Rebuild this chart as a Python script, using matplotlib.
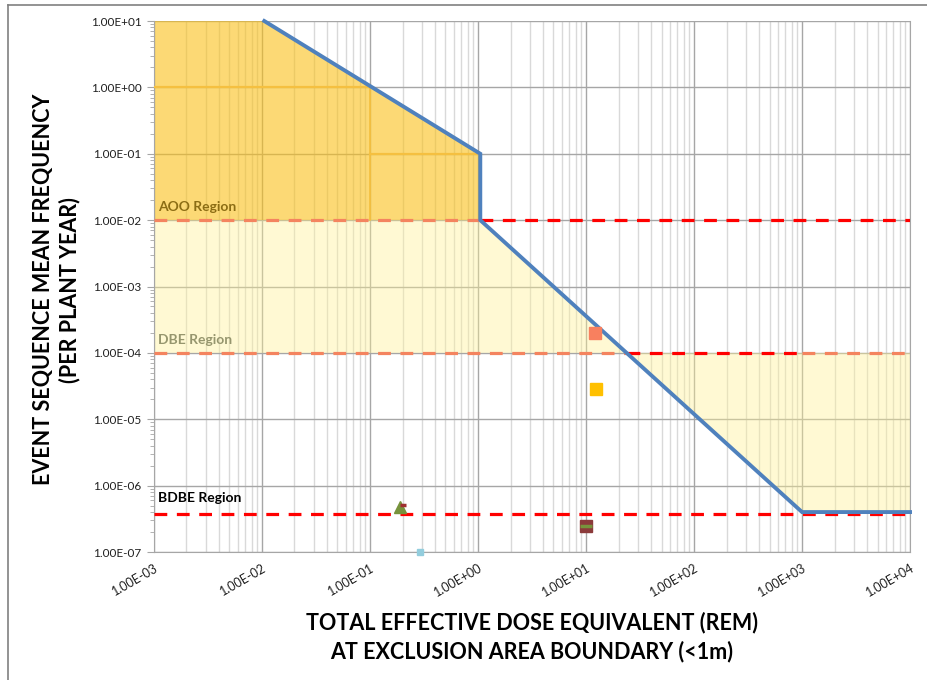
import numpy as np
import matplotlib
matplotlib.use("Agg")
import matplotlib.pyplot as plt
from matplotlib.lines import Line2D

plt.rcParams['font.family'] = ['Lato', 'DejaVu Sans']

# limit curve (dose in rem, frequency per plant year)
curve_x = [0.0105, 1.05, 1.05, 1000, 1e4]
curve_y = [10, 0.1, 0.01, 4e-7, 4e-7]

# region boundaries
aoo_limit = 1e-2
dbe_limit = 1e-4
bdbe_limit = 3.8e-7

# event sequences
pt_x = [12, 12.5, 10, 0.19, 0.29]
pt_y = [2e-4, 2.85e-5, 2.5e-7, 4.8e-7, 1e-7]

xmin, xmax = 1e-3, 1e4
ymin, ymax = 1e-7, 10

def cross_x(level):
    # where the sloped part of the curve meets a frequency level
    lx = np.log10([curve_x[2], curve_x[3]])
    ly = np.log10([curve_y[2], curve_y[3]])
    return 10 ** np.interp(np.log10(level), ly[::-1], lx[::-1])

x_dbe = cross_x(dbe_limit)

fig = plt.figure(figsize=(9.27, 6.8), dpi=100)
ax = fig.add_axes([0.1661, 0.1882, 0.8156, 0.7809])
ax.set_xscale('log')
ax.set_yscale('log')
ax.set_xlim(xmin, xmax)
ax.set_ylim(ymin, ymax)

# grid
ax.grid(True, which='major', color='#a6a6a6', lw=1.0, zorder=1)
ax.grid(True, which='minor', color='#d9d9d9', lw=1.0, zorder=1)
ax.yaxis.grid(False, which='minor')

# AOO region (orange)
ax.fill([xmin, curve_x[0], curve_x[1], curve_x[2], xmin],
        [ymax, curve_y[0], curve_y[1], curve_y[2], aoo_limit],
        color='#fac019', alpha=0.6, lw=0, zorder=2)
gold = '#f5c040'
ax.plot([xmin, 0.1], [1, 1], color=gold, lw=1.6, zorder=3)
ax.plot([0.1, 0.1], [1, aoo_limit], color=gold, lw=1.2, zorder=3)
ax.plot([0.1, curve_x[1]], [0.1, 0.1], color=gold, lw=1.6, zorder=3)

# DBE region (light yellow)
ax.fill([xmin, curve_x[2], x_dbe, xmin],
        [aoo_limit, aoo_limit, dbe_limit, dbe_limit],
        color='#fff293', alpha=0.4, lw=0, zorder=2)
ax.fill([x_dbe, curve_x[3], curve_x[4], curve_x[4]],
        [dbe_limit, curve_y[3], curve_y[4], dbe_limit],
        color='#fff293', alpha=0.4, lw=0, zorder=2)

# region limit lines
red = '#ff0000'
salmon = '#f4845f'
dash = dict(lw=2.3, dashes=(4, 3), zorder=4)
ax.plot([xmin, curve_x[2]], [aoo_limit] * 2, color=salmon, **dash)
ax.plot([curve_x[2], xmax], [aoo_limit] * 2, color=red, **dash)
ax.plot([xmin, x_dbe], [dbe_limit] * 2, color=salmon, **dash)
ax.plot([x_dbe, curve_x[3]], [dbe_limit] * 2, color=red, **dash)
ax.plot([curve_x[3], xmax], [dbe_limit] * 2, color=salmon, **dash)
ax.plot([xmin, xmax], [bdbe_limit] * 2, color=red, **dash)

# limit curve
ax.plot(curve_x, curve_y, color='#4f81bd', lw=2.8, zorder=5,
        solid_joinstyle='miter', clip_on=False)

# event points
ax.plot(pt_x[0], pt_y[0], 's', ms=8, color='#f8805f', zorder=6)
ax.plot(pt_x[1], pt_y[1], 's', ms=8, color='#ffc000', zorder=6)
ax.plot(pt_x[2], pt_y[2], 's', ms=8, color='#8b3a3a', zorder=6)
ax.plot(pt_x[2], pt_y[2], '_', ms=8, mew=2.5, color='#77933c', zorder=7)
ax.plot(pt_x[3], pt_y[3], '^', ms=8, color='#77933c', zorder=6)
ax.plot(pt_x[3] * 1.07, pt_y[3] * 1.08, '_', ms=5, mew=2.5, color='#a03030', zorder=7)
ax.plot(pt_x[4], pt_y[4], 's', ms=4, color='#93cddd', zorder=6, clip_on=False)

# region labels
ax.text(1.1e-3, 1.35e-2, 'AOO Region', fontsize=10, fontweight='bold', color='#8c6d14', zorder=8)
ax.text(1.1e-3, 1.35e-4, 'DBE Region', fontsize=10, fontweight='bold', color='#96966e', zorder=8)
ax.text(1.1e-3, 5.6e-7, 'BDBE Region', fontsize=10, fontweight='bold', color='#000000', zorder=8)

# ticks
xt = [1e-3, 1e-2, 1e-1, 1, 10, 100, 1000, 1e4]
yt = [1e-7, 1e-6, 1e-5, 1e-4, 1e-3, 1e-2, 1e-1, 1, 10]
ax.set_xticks(xt)
ax.set_yticks(yt)
ax.set_xticklabels(['%.2E' % v for v in xt], rotation=30, ha='right',
                   rotation_mode='anchor', fontsize=9, color='#202020')
ax.set_yticklabels(['%.2E' % v for v in yt], fontsize=8.5, color='#202020')
ax.tick_params(axis='x', which='both', length=0, pad=7)
ax.tick_params(axis='y', which='major', length=5, color='#a6a6a6', pad=4)
ax.tick_params(axis='y', which='minor', length=3, color='#a6a6a6')
ax.xaxis.set_minor_formatter(plt.NullFormatter())
ax.yaxis.set_minor_formatter(plt.NullFormatter())
for s in ax.spines.values():
    s.set_color('#a6a6a6')
ax.spines['top'].set_visible(False)

fig.text(0.061, 0.574, 'EVENT SEQUENCE MEAN FREQUENCY\n(PER PLANT YEAR)', rotation=90,
         ha='center', va='center', fontsize=15.5, fontweight='bold', linespacing=1.25)
fig.text(0.574, 0.063, 'TOTAL EFFECTIVE DOSE EQUIVALENT (REM)\nAT EXCLUSION AREA BOUNDARY (<1m)',
         ha='center', va='center', fontsize=15.5, fontweight='bold', linespacing=1.4)

# outer frame
fig.add_artist(Line2D([0.009, 0.009], [0, 0.992], color='#808080', lw=1.2))
fig.add_artist(Line2D([0.009, 1.0], [0.992, 0.992], color='#808080', lw=1.2))

fig.savefig('out.png', dpi=100)
